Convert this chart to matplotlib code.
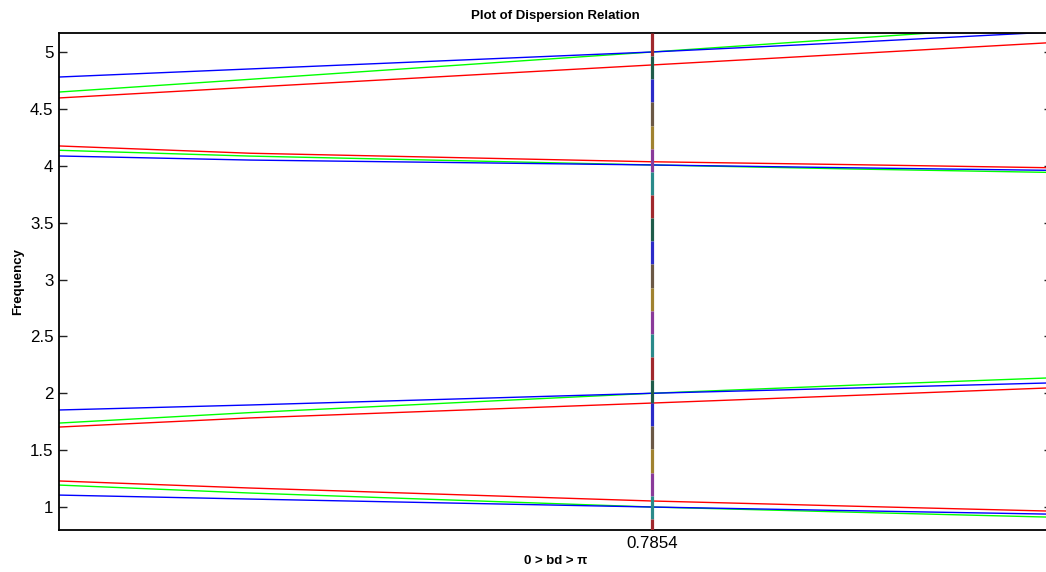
import numpy as np
import matplotlib
matplotlib.use("Agg")
import matplotlib.pyplot as plt

plt.rcParams['font.family'] = ['Liberation Sans', 'DejaVu Sans']

# x samples along 0 > bd > pi (only the pi/4 tick is labelled)
bd = [0.0, 0.253, 0.7854, 1.0477, 1.3073]

# four bands, each with red / green / blue branch
red_1 = [1.229, 1.167, 1.053, 1.008, 0.965]
green_1 = [1.193, 1.123, 1.000, 0.955, 0.912]
blue_1 = [1.105, 1.070, 1.000, 0.968, 0.938]

red_2 = [1.703, 1.783, 1.914, 1.980, 2.046]
green_2 = [1.738, 1.830, 2.000, 2.070, 2.134]
blue_2 = [1.853, 1.897, 2.000, 2.045, 2.090]

red_3 = [4.174, 4.110, 4.035, 4.010, 3.983]
green_3 = [4.136, 4.085, 4.007, 3.972, 3.942]
blue_3 = [4.086, 4.050, 4.007, 3.982, 3.960]

red_4 = [4.596, 4.690, 4.886, 4.983, 5.080]
green_4 = [4.648, 4.760, 5.000, 5.119, 5.236]
blue_4 = [4.780, 4.851, 5.000, 5.084, 5.173]

x_mark = 0.7854
seg_colors = ['#a0282d', '#1f5c4a', '#2b2bc8', '#6b5845', '#a08230', '#8a3a9a', '#2a8a8a']
seg_len = 0.2034

ymin, ymax = 0.798, 5.167
xmin, xmax = 0.0, 1.3152

fig = plt.figure(figsize=(10.46, 5.72), dpi=100)
ax = fig.add_axes([59/1046, 1-530/572, (1052-59)/1046, (530-33)/572])

for r, g, b in [(red_1, green_1, blue_1), (red_2, green_2, blue_2),
                (red_3, green_3, blue_3), (red_4, green_4, blue_4)]:
    ax.plot(bd, r, color='#ff0000', lw=1.0)
    ax.plot(bd, g, color='#00ff00', lw=1.0)
    ax.plot(bd, b, color='#0000ff', lw=1.0)

# multicoloured marker line at bd = pi/4
top = ymax
k = 0
while top > ymin:
    bot = max(top - seg_len, ymin)
    ax.plot([x_mark, x_mark], [bot, top], color=seg_colors[k % len(seg_colors)],
            lw=2.3, solid_capstyle='butt', zorder=5)
    top -= seg_len
    k += 1

ax.set_xlim(xmin, xmax)
ax.set_ylim(ymin, ymax)
ax.set_xticks([x_mark])
ax.set_xticklabels(['0.7854'])
ax.set_yticks([1, 1.5, 2, 2.5, 3, 3.5, 4, 4.5, 5])
ax.set_yticklabels(['1', '1.5', '2', '2.5', '3', '3.5', '4', '4.5', '5'])
ax.tick_params(direction='in', length=6, width=1, labelsize=12.2,
               top=True, right=True, pad=4, colors='#222222', labelcolor='black')
for s in ax.spines.values():
    s.set_linewidth(1.3)

ax.set_title('Plot of Dispersion Relation', fontsize=9.5, fontweight='bold', pad=10)
ax.set_xlabel('0 > bd > π', fontsize=9.5, fontweight='bold', labelpad=3)
ax.set_ylabel('Frequency', fontsize=9.5, fontweight='bold', labelpad=4)

fig.savefig('out.png', dpi=100)
